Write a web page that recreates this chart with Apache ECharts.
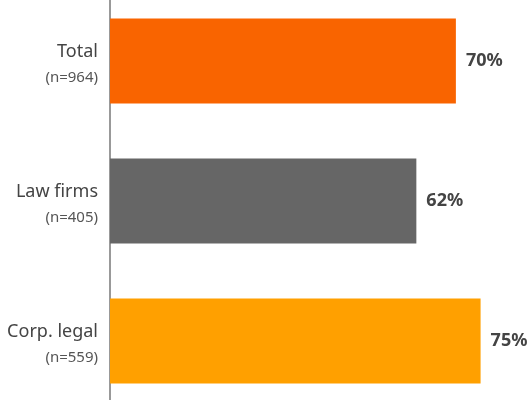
<!DOCTYPE html>
<html>
<head>
<meta charset="utf-8">
<script src="https://cdn.jsdelivr.net/npm/echarts@6/dist/echarts.min.js"></script>
<style>
  html, body { margin: 0; padding: 0; background: #fff; }
  #chart { width: 530px; height: 400px; }
</style>
</head>
<body>
<div id="chart"></div>
<script>
// 数据
const categories = ['Total', 'Law firms', 'Corp. legal']
const sampleSizes = ['n=964', 'n=405', 'n=559']
const values = [70, 62, 75]
const barColors = ['#F96400', '#666666', '#FFA000']

const chart = echarts.init(document.getElementById('chart'))

const option = {
  animation: false,
  textStyle: { fontFamily: 'Noto Sans' },
  grid: { left: 110, right: 0, top: -9, height: 420, outerBoundsMode: 'none', containLabel: false },
  xAxis: {
    type: 'value',
    min: 0,
    max: 85,
    show: false
  },
  yAxis: {
    type: 'category',
    inverse: true,
    data: categories,
    axisLine: { lineStyle: { color: '#777', width: 1.5 } },
    axisTick: { show: false },
    axisLabel: {
      margin: 12,
      align: 'right',
      padding: [6, 0, 0, 0],
      formatter: (v, i) => '{a|' + v + '}\n{b|(' + sampleSizes[i] + ')}',
      rich: {
        a: { fontSize: 18, color: '#444', lineHeight: 28, align: 'right' },
        b: { fontSize: 15, color: '#555', lineHeight: 24, align: 'right' }
      }
    }
  },
  series: [{
    type: 'bar',
    barWidth: 85,
    data: values.map((v, i) => ({ value: v, itemStyle: { color: barColors[i] } })),
    label: {
      show: true,
      position: 'right',
      distance: 10,
      formatter: '{c}%',
      fontSize: 18,
      fontWeight: 'bold',
      color: '#444'
    }
  }]
}

chart.setOption(option)
window.addEventListener('resize', () => chart.resize())
</script>
</body>
</html>
